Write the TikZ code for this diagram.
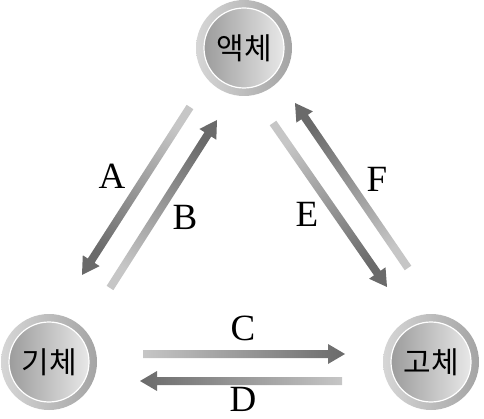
\documentclass[tikz,border=0pt]{standalone}
\usepackage{fontspec}
\setmainfont{Liberation Serif}
\newfontfamily\krfont{Noto Sans CJK KR}
\usetikzlibrary{calc}
\definecolor{arrlight}{HTML}{C6C6C6}
\definecolor{arrdark}{HTML}{6A6A6A}
\definecolor{ringlight}{HTML}{D6D6D6}
\definecolor{ringdark}{HTML}{A4A4A4}
\definecolor{disclight}{HTML}{E8E8E8}
\definecolor{discdark}{HTML}{9C9C9C}
\newcommand\garrow[3]{%
  \path ($(#2)!17pt!(#1)$) coordinate (hb);
  \shade[top color=arrdark, bottom color=arrlight, shading angle=#3]
    ($(#1)!4pt!90:(#2)$) -- ($(hb)!4pt!90:(#2)$) -- ($(hb)!10pt!90:(#2)$) -- (#2)
    -- ($(hb)!10pt!-90:(#2)$) -- ($(hb)!4pt!-90:(#2)$) -- ($(#1)!4pt!-90:(#2)$) -- cycle;}
\tikzset{
  ring/.style={left color=ringlight, right color=ringdark},
  state/.style={circle, minimum size=80pt, inner sep=0pt, draw=white, line width=1.2pt,
    left color=discdark, right color=disclight, font=\krfont\fontsize{30}{32}\selectfont},
  lbl/.style={font=\fontsize{37}{38}\selectfont, inner sep=0pt}
}
\begin{document}
\begin{tikzpicture}[x=1pt,y=-1pt]
\useasboundingbox (0,0) rectangle (484,419);
% circles
\shade[ring] (244,48) circle[radius=48pt];
\node[state] (liq) at (244,48) {액체};
\shade[ring] (49,362) circle[radius=48pt];
\node[state] (gas) at (49,362) {기체};
\shade[ring] (431,362) circle[radius=48pt];
\node[state] (sol) at (431,362) {고체};
% arrow end points
\coordinate (At) at (190,107); \coordinate (Ah) at (82,275);
\coordinate (Bt) at (110,288); \coordinate (Bh) at (217,120);
\coordinate (Et) at (273,123); \coordinate (Eh) at (387,287);
\coordinate (Ft) at (408,268); \coordinate (Fh) at (295,103);
\coordinate (Ct) at (143,354); \coordinate (Ch) at (345,354);
\coordinate (Dt) at (342,381); \coordinate (Dh) at (140,381);
\garrow{At}{Ah}{147.3}
\garrow{Bt}{Bh}{-32.5}
\garrow{Et}{Eh}{-145.2}
\garrow{Ft}{Fh}{34.4}
\garrow{Ct}{Ch}{-90}
\garrow{Dt}{Dh}{90}
% labels
\node[lbl] (la) at (112,176) {A};
\node[lbl] (lb) at (185,217) {B};
\node[lbl] (lc) at (243,328) {C};
\node[lbl] (ld) at (243,399) {D};
\node[lbl] (le) at (307,214) {E};
\node[lbl] (lf) at (377,179) {F};
\end{tikzpicture}
\end{document}
